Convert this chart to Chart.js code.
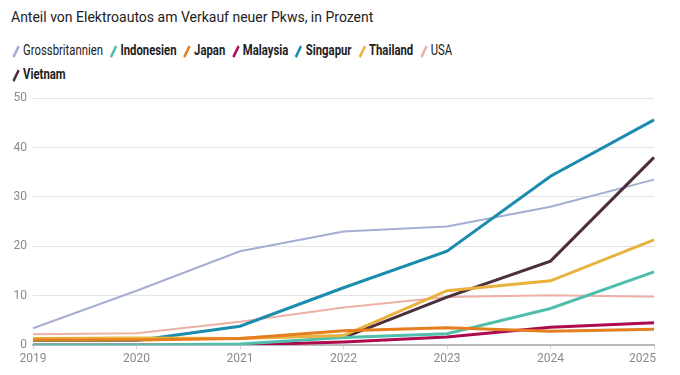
<!DOCTYPE html>
<html>
<head>
<meta charset="utf-8">
<script src="https://cdn.jsdelivr.net/npm/chart.js@4"></script>
<style>
    body {
        margin: 0;
        width: 680px;
        height: 375px;
        background: #fff;
        font-family: "Roboto", sans-serif;
        color: #222;
        position: relative;
        overflow: hidden;
    }
    .title {
        position: absolute;
        left: 11px;
        top: 9px;
        font-size: 14px;
    }
    .legend {
        position: absolute;
        left: 11px;
        top: 39px;
        width: 590px;
        display: flex;
        flex-wrap: wrap;
        font-size: 14.5px;
        line-height: 24px;
        transform: scaleX(0.78);
        transform-origin: left top;
    }
    .legend-item {
        display: flex;
        align-items: center;
        margin-right: 7px;
    }
    .legend-item .mark {
        display: inline-block;
        width: 2.5px;
        height: 13px;
        margin: 0 8px 0 5px;
        transform: rotate(32deg);
    }
    .chart-box {
        position: absolute;
        left: 0;
        top: 85px;
        width: 680px;
        height: 290px;
    }
</style>
</head>
<body>
<div class="title">Anteil von Elektroautos am Verkauf neuer Pkws, in Prozent</div>
<div class="legend" id="legend"></div>
<div class="chart-box"><canvas id="myChart"></canvas></div>

<script>
var years = ['2019', '2020', '2021', '2022', '2023', '2024', '2025'];

var countries = ['Grossbritannien', 'Indonesien', 'Japan', 'Malaysia', 'Singapur', 'Thailand', 'USA', 'Vietnam'];
var colors = ['#a5aed2', '#4fbfac', '#e57e1f', '#ad0a50', '#1a8cae', '#e8b23c', '#ecb0a5', '#4b2f3a'];
var highlighted = [false, true, true, true, true, true, false, true];

var gbValues = [3.4, 11, 19, 23, 24, 28, 33.5];
var indonesiaValues = [0, 0, 0.2, 1.5, 2.3, 7.4, 14.8];
var japanValues = [1, 1, 1.3, 2.9, 3.5, 2.8, 3.2];
var malaysiaValues = [0, 0, 0, 0.6, 1.6, 3.6, 4.5];
var singaporeValues = [0.9, 0.9, 3.8, 11.6, 19, 34.2, 45.6];
var thailandValues = [1.3, 1.4, 1.3, 1.9, 11, 13, 21.3];
var usaValues = [2.2, 2.4, 4.7, 7.6, 9.7, 10.1, 9.8];
var vietnamValues = [null, null, null, 1.5, 9.7, 17, 38];

var seriesList = [gbValues, indonesiaValues, japanValues, malaysiaValues, singaporeValues, thailandValues, usaValues, vietnamValues];
// lower order = drawn on top
var drawOrder = [9, 3, 1, 4, 5, 2, 8, 6];

// legend
var legendDiv = document.getElementById('legend');
for (let i = 0; i < countries.length; i++) {
    var item = document.createElement('div');
    item.classList.add('legend-item');
    var mark = document.createElement('span');
    mark.classList.add('mark');
    mark.style.background = colors[i];
    var label = document.createElement('span');
    label.textContent = countries[i];
    label.style.fontWeight = highlighted[i] ? 'bold' : 'normal';
    item.appendChild(mark);
    item.appendChild(label);
    legendDiv.appendChild(item);
}

let datasets = [];
for (let i = 0; i < countries.length; i++) {
    datasets.push({
        label: countries[i],
        data: seriesList[i],
        borderColor: colors[i],
        backgroundColor: colors[i],
        borderWidth: highlighted[i] ? 3 : 2,
        pointRadius: 0,
        tension: 0,
        order: drawOrder[i]
    });
}

// x labels drawn by hand so the last one can sit inside the canvas
var xLabelPlugin = {
    id: 'xLabels',
    afterDraw: function (chart) {
        var ctx = chart.ctx;
        var xScale = chart.scales.x;
        ctx.save();
        ctx.font = '12px Roboto, sans-serif';
        ctx.fillStyle = '#8a8a8a';
        ctx.textBaseline = 'middle';
        ctx.textAlign = 'center';
        for (let i = 0; i < years.length; i++) {
            var x = xScale.getPixelForValue(i);
            var w = ctx.measureText(years[i]).width;
            if (x + w / 2 > 656) {
                x = 656 - w / 2;
            }
            ctx.fillText(years[i], x, chart.chartArea.bottom + 14);
        }
        ctx.restore();
    }
};

var ctx1 = document.getElementById('myChart').getContext('2d');
new Chart(ctx1, {
    type: 'line',
    data: {
        labels: years,
        datasets: datasets
    },
    options: {
        responsive: true,
        maintainAspectRatio: false,
        animation: false,
        layout: {
            padding: {top: 13, right: 26, bottom: 26, left: 0}
        },
        plugins: {
            legend: {display: false},
            tooltip: {enabled: false}
        },
        scales: {
            x: {
                offset: false,
                grid: {
                    drawOnChartArea: false,
                    drawTicks: true,
                    tickLength: 4,
                    color: '#d0d0d4'
                },
                border: {
                    display: true,
                    color: '#b8b8bc',
                    width: 2
                },
                ticks: {display: false}
            },
            y: {
                min: 0,
                max: 50,
                afterFit: function (scale) {
                    scale.width = 33;
                },
                grid: {
                    color: '#e2e2e8',
                    drawTicks: false
                },
                border: {display: false},
                ticks: {
                    stepSize: 10,
                    padding: 6,
                    color: '#8a8a8a',
                    font: {family: 'Roboto, sans-serif', size: 12}
                }
            }
        }
    },
    plugins: [xLabelPlugin]
});
</script>
</body>
</html>
